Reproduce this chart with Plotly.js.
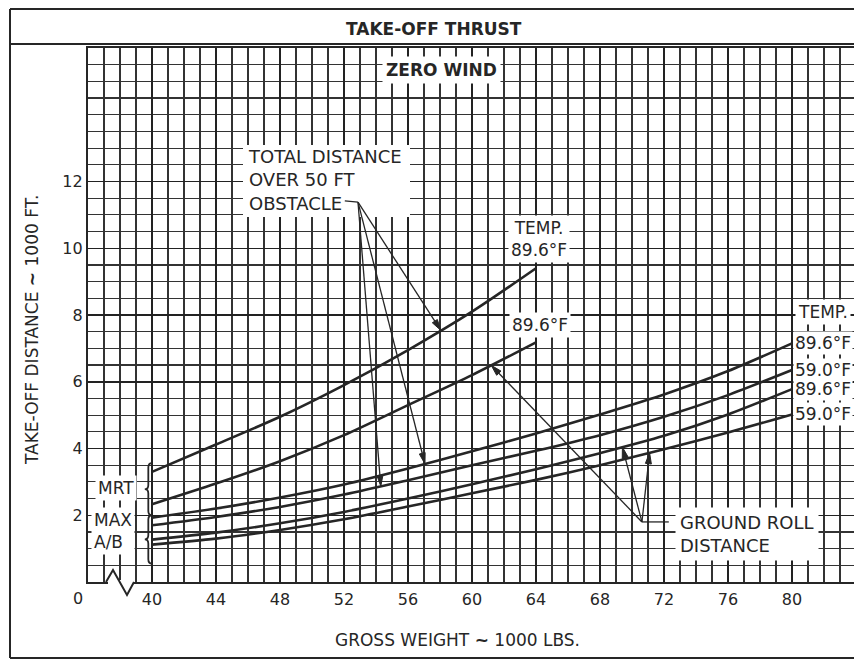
<!DOCTYPE html>
<html><head><meta charset="utf-8">
<script src="https://cdn.plot.ly/plotly-3.0.1.min.js"></script>
<style>html,body{margin:0;padding:0;background:#fff}</style>
</head><body><div id="chart" style="width:854px;height:662px"></div>
<script>
// ---- DATA ----
const weightsMRT   = [40, 44, 48, 52, 56, 60, 64];
const mrtTotal896  = [3.30, 4.12, 4.95, 5.90, 6.95, 8.10, 9.40];
const mrtGround896 = [2.33, 2.95, 3.62, 4.40, 5.30, 6.20, 7.18];

const weightsMAX   = [40, 44, 48, 52, 56, 60, 64, 68, 72, 76, 80];
const maxTotal896  = [1.93, 2.20, 2.53, 2.92, 3.40, 3.92, 4.45, 5.02, 5.62, 6.32, 7.15];
const maxTotal590  = [1.70, 1.95, 2.25, 2.62, 3.05, 3.50, 3.93, 4.40, 4.95, 5.60, 6.35];
const maxGround896 = [1.27, 1.48, 1.76, 2.10, 2.50, 2.93, 3.38, 3.86, 4.38, 5.02, 5.78];
const maxGround590 = [1.12, 1.30, 1.56, 1.88, 2.26, 2.66, 3.06, 3.50, 3.98, 4.48, 5.02];

const xTickVals = [40, 44, 48, 52, 56, 60, 64, 68, 72, 76, 80];
const xTickText = ['40', '44', '48', '52', '56', '60', '64', '68', '72', '76', '80'];
const yTickVals = [2, 4, 6, 8, 10, 12];
const yTickText = ['2', '4', '6', '8', '10', '12'];

const tempMRT = '89.6';
const tempsMAX = ['89.6', '59.0', '89.6', '59.0'];

// arrow target weights (where leaders touch the curves)
const totalArrowW  = [58.05, 57.06, 54.3];
const groundArrowW = [61.2, 69.4, 71.1];

// ---- helpers ----
const FONT = 'DejaVu Sans, sans-serif';
const INK = '#262626';
const L = 88, R = 854, T = 48, B = 582;
const X0 = 36, XSPAN = (R - L) / 16, YMAX = 16;
const pxPerX = (R - L) / XSPAN, pxPerY = (B - T) / YMAX;
const pxX = p => (p - L) / (R - L);
const pxY = p => (B - p) / (B - T);
const dX = p => X0 + (p - L) / pxPerX;
const dY = p => (B - p) / pxPerY;
function interp(xs, ys, x) {
  for (let i = 0; i < xs.length - 1; i++) {
    if (x >= xs[i] && x <= xs[i + 1]) {
      const t = (x - xs[i]) / (xs[i + 1] - xs[i]);
      return ys[i] + t * (ys[i + 1] - ys[i]);
    }
  }
  return ys[ys.length - 1];
}
const deg = t => t + '°F';

function line(xs, ys) {
  return {x: xs, y: ys, type: 'scatter', mode: 'lines', hoverinfo: 'skip',
          line: {color: INK, width: 2.6, shape: 'spline', smoothing: 0.8}, showlegend: false};
}
const data = [
  line(weightsMRT, mrtTotal896),
  line(weightsMRT, mrtGround896),
  line(weightsMAX, maxTotal896),
  line(weightsMAX, maxTotal590),
  line(weightsMAX, maxGround896),
  line(weightsMAX, maxGround590)
];

function brace(y0, y1, xTip, xMid, xEnd) {
  const ym = (y0 + y1) / 2, d = 0.13;
  return `M ${xEnd},${y1} Q ${xMid},${y1} ${xMid},${y1 - d} L ${xMid},${ym + d} ` +
         `Q ${xMid},${ym} ${xTip},${ym} Q ${xMid},${ym} ${xMid},${ym - d} ` +
         `L ${xMid},${y0 + d} Q ${xMid},${y0} ${xEnd},${y0}`;
}

const annFont = s => ({family: FONT, size: s, color: INK});
const annotations = [];
function txt(o) {
  annotations.push(Object.assign({showarrow: false, font: annFont(17), xanchor: 'center', yanchor: 'middle'}, o));
}

// titles
txt({text: '<b>TAKE-OFF THRUST</b>', xref: 'paper', yref: 'paper', x: pxX(434), y: pxY(29), font: annFont(17)});
txt({text: '<b>ZERO WIND</b>', xref: 'paper', yref: 'paper', x: pxX(441), y: pxY(70), font: annFont(17),
     bgcolor: '#fff', borderpad: 3});
txt({text: 'TAKE-OFF DISTANCE <b>~</b> 1000 FT.', xref: 'paper', yref: 'paper', x: pxX(32), y: pxY(330),
     textangle: -90, font: annFont(17)});
txt({text: 'GROSS WEIGHT <b>~</b> 1000 LBS.', xref: 'paper', yref: 'paper', x: pxX(457), y: pxY(640),
     font: annFont(17)});
txt({text: '0', xref: 'paper', yref: 'paper', x: pxX(78), y: pxY(598), font: annFont(16)});

// callout text blocks
txt({text: 'TOTAL DISTANCE<br>OVER 50 FT<br>OBSTACLE', xref: 'x', yref: 'y', x: 45.85, y: 12.05,
     xanchor: 'left', align: 'left', font: annFont(18)});
txt({text: 'GROUND ROLL<br>DISTANCE', xref: 'x', yref: 'y', x: 72.7, y: 1.44,
     xanchor: 'left', align: 'left', bgcolor: '#fff', borderpad: 4, font: annFont(18)});

// MRT curve end labels
const mrtEndX = weightsMRT[weightsMRT.length - 1];
txt({text: 'TEMP.<br>' + deg(tempMRT), xref: 'x', yref: 'y', x: mrtEndX,
     y: mrtTotal896[mrtTotal896.length - 1], yanchor: 'bottom', yshift: 5, xshift: 3,
     bgcolor: '#fff', borderpad: 2});
txt({text: deg(tempMRT), xref: 'x', yref: 'y', x: mrtEndX,
     y: mrtGround896[mrtGround896.length - 1], yanchor: 'bottom', yshift: 4, xshift: 4,
     bgcolor: '#fff', borderpad: 2});

// MAX A/B curve end labels
const maxEndX = weightsMAX[weightsMAX.length - 1];
const maxEnds = [maxTotal896, maxTotal590, maxGround896, maxGround590].map(a => a[a.length - 1]);
txt({text: 'TEMP.', xref: 'x', yref: 'y', x: maxEndX, y: maxEnds[0], xanchor: 'left',
     xshift: 3, yshift: 31, bgcolor: '#fff', borderpad: 2});
maxEnds.forEach((v, i) => {
  txt({text: deg(tempsMAX[i]), xref: 'x', yref: 'y', x: maxEndX, y: v, xanchor: 'left',
       xshift: 1, bgcolor: '#fff', borderpad: 1});
});

// thrust labels at left
const mrtMid = (mrtTotal896[0] + mrtGround896[0]) / 2;
const maxMid = (maxTotal896[0] + maxGround590[0]) / 2;
txt({text: 'MRT', xref: 'x', yref: 'y', x: 37.75, y: mrtMid, bgcolor: '#fff', borderpad: 2});
txt({text: 'MAX<br>A/B', xref: 'x', yref: 'y', x: 37.55, y: maxMid, align: 'left', bgcolor: '#fff', borderpad: 2});

// shapes
const shapes = [
  // white panel behind the "total distance" callout
  {type: 'rect', xref: 'x', yref: 'y', x0: dX(243), x1: dX(410), y0: dY(217), y1: dY(145),
   line: {width: 0}, fillcolor: '#fff', layer: 'above'},
  // outer frame
  {type: 'line', xref: 'paper', yref: 'paper', x0: pxX(10), x1: pxX(900), y0: pxY(9), y1: pxY(9),
   line: {color: INK, width: 2}, layer: 'above'},
  {type: 'line', xref: 'paper', yref: 'paper', x0: pxX(10), x1: pxX(900), y0: pxY(658), y1: pxY(658),
   line: {color: INK, width: 2}, layer: 'above'},
  {type: 'line', xref: 'paper', yref: 'paper', x0: pxX(10), x1: pxX(10), y0: pxY(658), y1: pxY(9),
   line: {color: INK, width: 2}, layer: 'above'},
  {type: 'line', xref: 'paper', yref: 'paper', x0: pxX(10), x1: pxX(900), y0: pxY(44), y1: pxY(44),
   line: {color: INK, width: 2}, layer: 'above'},
  // braces
  {type: 'path', xref: 'x', yref: 'y', path: brace(2.0, 3.56, 39.55, 39.77, 40.0),
   line: {color: INK, width: 1.8}, layer: 'above'},
  {type: 'path', xref: 'x', yref: 'y', path: brace(0.55, 2.0, 39.55, 39.77, 40.0),
   line: {color: INK, width: 1.8}, layer: 'above'},
  // axis break
  {type: 'rect', xref: 'paper', yref: 'paper', x0: pxX(108), x1: pxX(134), y0: pxY(584.5), y1: pxY(580),
   line: {width: 0}, fillcolor: '#fff', layer: 'above'},
  {type: 'path', xref: 'paper', yref: 'paper',
   path: `M ${pxX(106)},${pxY(582)} L ${pxX(113)},${pxY(570)} L ${pxX(127)},${pxY(595)} L ${pxX(134)},${pxY(582)}`,
   line: {color: INK, width: 2}, layer: 'above'}
];

// leader arrows (tips placed on the curves by interpolating the data)
const totalTail = [52.875, 11.38];
const groundTail = [70.62, 1.80];
shapes.push({type: 'line', xref: 'x', yref: 'y', x0: 52.05, x1: totalTail[0], y0: 11.42, y1: totalTail[1],
             line: {color: INK, width: 1.3}, layer: 'above'});
shapes.push({type: 'line', xref: 'x', yref: 'y', x0: groundTail[0], x1: 72.3, y0: groundTail[1], y1: groundTail[1],
             line: {color: INK, width: 1.3}, layer: 'above'});
const totalSeries = [[weightsMRT, mrtTotal896], [weightsMAX, maxTotal896], [weightsMAX, maxTotal590]];
const groundSeries = [[weightsMRT, mrtGround896], [weightsMAX, maxGround896], [weightsMAX, maxGround590]];
function arrows(ws, series, tail) {
  ws.forEach((w, i) => {
    const tx = w, ty = interp(series[i][0], series[i][1], w);
    const dxp = (tx - tail[0]) * pxPerX, dyp = (ty - tail[1]) * pxPerY;
    const len = Math.hypot(dxp, dyp), ux = dxp / len, uy = dyp / len;
    const hl = 11, hw = 3;
    const bx = tx - ux * hl / pxPerX, by = ty - uy * hl / pxPerY;
    const lx = bx + (-uy) * hw / pxPerX, ly = by + (ux) * hw / pxPerY;
    const rx = bx - (-uy) * hw / pxPerX, ry = by - (ux) * hw / pxPerY;
    shapes.push({type: 'line', xref: 'x', yref: 'y', x0: tail[0], y0: tail[1], x1: bx, y1: by,
                 line: {color: INK, width: 1.3}, layer: 'above'});
    shapes.push({type: 'path', xref: 'x', yref: 'y', path: `M ${tx},${ty} L ${lx},${ly} L ${rx},${ry} Z`,
                 line: {color: INK, width: 1}, fillcolor: INK, layer: 'above'});
  });
}
arrows(totalArrowW, totalSeries, totalTail);
arrows(groundArrowW, groundSeries, groundTail);

const layout = {
  width: 854, height: 662,
  margin: {l: L, r: 854 - R, t: T, b: 662 - B, autoexpand: false},
  paper_bgcolor: '#fff', plot_bgcolor: '#fff',
  font: {family: FONT, color: INK, size: 16},
  showlegend: false,
  xaxis: {
    range: [X0, X0 + XSPAN], tickmode: 'array', tickvals: xTickVals, ticktext: xTickText,
    showgrid: true, gridcolor: '#222', gridwidth: 1.5, zeroline: false,
    showline: true, linecolor: INK, linewidth: 2.2, mirror: true,
    ticks: '', ticklabelstandoff: 2, tickfont: {family: FONT, size: 16, color: INK},
    minor: {tick0: 36, dtick: 1, showgrid: true, gridcolor: '#333', gridwidth: 1.2}
  },
  yaxis: {
    range: [0, YMAX], tickmode: 'array', tickvals: yTickVals, ticktext: yTickText,
    showgrid: true, gridcolor: '#222', gridwidth: 1.5, zeroline: false,
    showline: true, linecolor: INK, linewidth: 2.2, mirror: true,
    ticks: '', ticklabelstandoff: 0, tickfont: {family: FONT, size: 16, color: INK},
    minor: {tick0: 0, dtick: 0.5, showgrid: true, gridcolor: '#333', gridwidth: 1.2}
  },
  annotations: annotations,
  shapes: shapes
};

Plotly.newPlot('chart', data, layout, {staticPlot: true, displayModeBar: false});
</script>
</body></html>
